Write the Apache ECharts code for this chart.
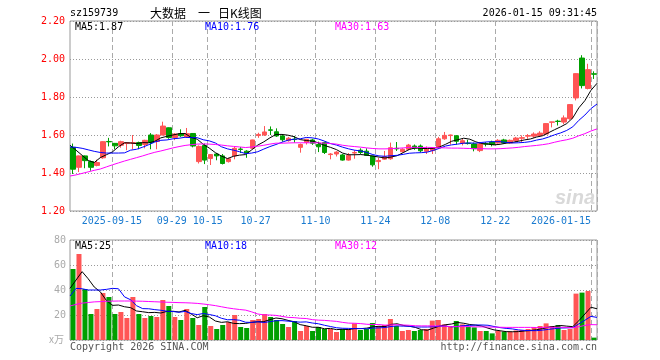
<!DOCTYPE html>
<html><head><meta charset="utf-8">
<script src="https://cdn.jsdelivr.net/npm/echarts@6/dist/echarts.min.js"></script>
<style>html,body{margin:0;padding:0;background:#fff}#c{width:660px;height:360px}</style>
</head><body><div id="c"></div>
<script>
const dates = ['2025-09-04','2025-09-05','2025-09-08','2025-09-09','2025-09-10','2025-09-11','2025-09-12','2025-09-15','2025-09-16','2025-09-17','2025-09-18','2025-09-19','2025-09-22','2025-09-23','2025-09-24','2025-09-25','2025-09-26','2025-09-29','2025-09-30',
'2025-10-09','2025-10-10','2025-10-13','2025-10-14','2025-10-15','2025-10-16','2025-10-17','2025-10-20','2025-10-21','2025-10-22','2025-10-23','2025-10-24','2025-10-27','2025-10-28','2025-10-29','2025-10-30','2025-10-31',
'2025-11-03','2025-11-04','2025-11-05','2025-11-06','2025-11-07','2025-11-10','2025-11-11','2025-11-12','2025-11-13','2025-11-14','2025-11-17','2025-11-18','2025-11-19','2025-11-20','2025-11-21','2025-11-24','2025-11-25','2025-11-26','2025-11-27','2025-11-28',
'2025-12-01','2025-12-02','2025-12-03','2025-12-04','2025-12-05','2025-12-08','2025-12-09','2025-12-10','2025-12-11','2025-12-12','2025-12-15','2025-12-16','2025-12-17','2025-12-18','2025-12-19','2025-12-22','2025-12-23','2025-12-24','2025-12-25','2025-12-26','2025-12-29','2025-12-30','2025-12-31',
'2026-01-05','2026-01-06','2026-01-07','2026-01-08','2026-01-09','2026-01-12','2026-01-13','2026-01-14','2026-01-15'];

const open = [1.535,1.43,1.49,1.46,1.44,1.48,1.566,1.556,1.546,1.555,
1.556,1.56,1.55,1.60,1.566,1.60,1.638,1.587,1.607,1.59,
1.608,1.46,1.545,1.476,1.50,1.49,1.46,1.49,1.526,1.515,
1.53,1.597,1.60,1.627,1.617,1.595,1.57,1.578,1.535,1.562,
1.574,1.55,1.56,1.497,1.50,1.495,1.468,1.505,1.52,1.515,
1.49,1.46,1.473,1.475,1.53,1.512,1.525,1.542,1.542,1.514,
1.518,1.532,1.58,1.597,1.596,1.556,1.557,1.553,1.518,1.554,
1.563,1.558,1.574,1.558,1.57,1.583,1.594,1.594,1.597,1.605,
1.667,1.673,1.668,1.686,1.795,2.005,1.845,1.922];
const close = [1.42,1.49,1.465,1.43,1.455,1.565,1.564,1.543,1.565,1.56,
1.56,1.545,1.572,1.56,1.60,1.647,1.587,1.605,1.596,1.607,
1.542,1.54,1.468,1.497,1.49,1.45,1.475,1.53,1.524,1.505,
1.574,1.603,1.616,1.625,1.595,1.575,1.583,1.576,1.55,1.577,
1.557,1.538,1.508,1.50,1.51,1.468,1.493,1.508,1.508,1.493,
1.443,1.466,1.486,1.533,1.527,1.525,1.547,1.53,1.517,1.526,
1.532,1.58,1.598,1.60,1.567,1.57,1.555,1.528,1.553,1.552,
1.55,1.572,1.558,1.572,1.584,1.586,1.597,1.605,1.61,1.66,
1.669,1.671,1.69,1.76,1.923,1.86,1.944,1.92];
const low = [1.395,1.405,1.425,1.412,1.435,1.475,1.54,1.525,1.533,1.52,
1.525,1.525,1.53,1.525,1.525,1.598,1.58,1.573,1.59,1.585,
1.535,1.45,1.447,1.442,1.467,1.445,1.455,1.472,1.505,1.48,
1.525,1.585,1.595,1.60,1.59,1.565,1.565,1.56,1.507,1.55,
1.548,1.51,1.50,1.472,1.487,1.465,1.465,1.475,1.50,1.49,
1.433,1.42,1.47,1.47,1.516,1.508,1.52,1.522,1.51,1.50,
1.50,1.53,1.575,1.55,1.55,1.545,1.55,1.514,1.51,1.54,
1.54,1.555,1.555,1.554,1.563,1.563,1.58,1.585,1.59,1.60,
1.64,1.65,1.657,1.68,1.782,1.845,1.84,1.895];
const high = [1.555,1.492,1.492,1.465,1.47,1.567,1.585,1.558,1.57,1.562,
1.60,1.565,1.575,1.61,1.605,1.67,1.64,1.61,1.63,1.637,
1.61,1.545,1.555,1.50,1.505,1.50,1.48,1.537,1.537,1.52,
1.575,1.612,1.647,1.645,1.635,1.60,1.59,1.595,1.555,1.58,
1.58,1.565,1.565,1.505,1.515,1.50,1.505,1.52,1.53,1.53,
1.49,1.48,1.516,1.56,1.563,1.53,1.553,1.55,1.55,1.54,
1.535,1.59,1.616,1.602,1.60,1.58,1.575,1.56,1.563,1.562,
1.57,1.578,1.58,1.576,1.59,1.598,1.605,1.614,1.62,1.662,
1.67,1.68,1.703,1.763,1.925,2.02,1.975,1.935];
const volume = [56.8,68.8,40.8,20.8,24.8,37.6,34.4,20.8,22.4,17.6,
34.4,20.8,17.6,19.2,18.4,32,27.2,18.4,16,24.8,
17.6,12,26.4,11.2,8.8,12,14.4,20,10.4,9.6,
16,16.8,20.8,18.4,16,12.8,10.4,15.2,7.2,11.2,
7.2,10.4,8.8,8.8,6.4,8.8,8.8,13.3,8,8.8,
13.6,11.2,12,16.8,11.2,7.2,8,7.2,8,8.8,
15.5,16,12.5,11,15.2,12.5,10.7,10.1,7.2,7.2,
5.3,7.2,6.7,6.7,7.6,8,8.8,10.1,11.2,13.3,
11.2,12,8,8.8,37.1,37.9,39.2,1.9];

const ma5 = [1.546,1.52,1.493,1.466,1.455,1.481,1.496,1.511,1.538,1.559,
1.558,1.555,1.560,1.559,1.567,1.585,1.593,1.600,1.607,1.608,
1.587,1.578,1.551,1.531,1.507,1.489,1.476,1.488,1.494,1.497,
1.522,1.547,1.564,1.585,1.603,1.603,1.599,1.591,1.576,1.571,
1.568,1.559,1.545,1.535,1.523,1.505,1.496,1.496,1.497,1.494,
1.489,1.484,1.479,1.484,1.491,1.507,1.524,1.532,1.529,1.529,
1.530,1.537,1.551,1.567,1.575,1.583,1.578,1.564,1.555,1.552,
1.548,1.551,1.557,1.561,1.567,1.574,1.579,1.589,1.596,1.612,
1.628,1.643,1.660,1.690,1.743,1.781,1.835,1.872];
const ma10 = [1.537,1.535,1.530,1.522,1.514,1.508,1.505,1.505,1.505,1.506,
1.520,1.525,1.536,1.549,1.563,1.572,1.574,1.580,1.583,1.588,
1.586,1.586,1.575,1.569,1.558,1.538,1.527,1.520,1.512,1.502,
1.505,1.512,1.526,1.539,1.550,1.562,1.573,1.578,1.580,1.587,
1.585,1.579,1.568,1.555,1.547,1.536,1.527,1.520,1.516,1.508,
1.497,1.490,1.488,1.491,1.493,1.498,1.504,1.506,1.507,1.510,
1.519,1.530,1.542,1.548,1.552,1.557,1.558,1.557,1.561,1.564,
1.565,1.565,1.561,1.558,1.559,1.561,1.565,1.573,1.579,1.589,
1.601,1.611,1.624,1.643,1.677,1.705,1.739,1.763];
const ma30 = [1.384,1.390,1.398,1.406,1.414,1.421,1.432,1.443,1.453,1.463,
1.472,1.481,1.490,1.500,1.509,1.516,1.524,1.532,1.539,1.545,
1.549,1.552,1.553,1.552,1.550,1.547,1.543,1.540,1.537,1.534,
1.537,1.541,1.546,1.552,1.557,1.557,1.558,1.559,1.559,1.559,
1.559,1.559,1.557,1.555,1.552,1.546,1.542,1.539,1.536,1.532,
1.529,1.527,1.527,1.528,1.530,1.532,1.535,1.535,1.534,1.535,
1.534,1.533,1.532,1.531,1.531,1.530,1.529,1.528,1.528,1.527,
1.527,1.528,1.530,1.532,1.535,1.539,1.542,1.545,1.549,1.554,
1.562,1.569,1.575,1.583,1.596,1.607,1.621,1.632];
const vma5 = [41.3,48,54.7,49,42.4,38.6,31.7,27.7,28.0,26.6,
25.9,23.2,22.6,21.9,22.1,21.6,22.9,23.0,22.4,23.7,
20.8,17.8,19.4,18.4,15.2,14.1,14.6,13.3,13.1,13.3,
14.1,14.6,14.7,16.3,17.6,17.0,15.7,14.6,12.3,11.4,
10.2,10.2,9.0,9.3,8.3,8.6,8.3,9.2,9.1,9.5,
10.5,11.0,10.7,12.5,13.0,11.7,11.0,10.1,8.3,7.8,
9.5,11.1,12.2,12.8,14.0,13.4,12.4,11.9,11.1,9.5,
8.1,7.4,6.7,6.6,6.7,7.2,7.6,8.2,9.1,10.3,
10.9,11.6,11.1,10.7,15.4,20.8,26.2,25.0];
const vma10 = [35.2,41.3,41.0,40.0,40.0,40.0,40.5,41.3,41.0,34.5,
32.2,27.4,25.1,25.0,24.3,23.8,23.0,22.8,22.2,22.9,
21.2,20.3,21.2,20.4,19.4,17.4,16.2,16.3,15.8,14.2,
14.1,14.6,14.0,14.7,15.4,15.5,15.1,14.6,14.3,14.5,
13.6,13.0,11.8,10.8,9.8,9.4,9.3,9.1,9.2,8.9,
9.6,9.7,10.0,10.8,11.3,11.1,11.0,10.4,10.4,10.4,
10.6,11.1,11.1,10.5,10.9,11.5,11.7,12.0,12.0,11.8,
10.8,9.9,9.3,8.9,8.1,7.7,7.5,7.5,7.9,8.5,
9.1,9.6,9.7,9.9,12.9,15.8,18.9,18.1];
const vma30 = [27.2,28.5,29.5,30.0,30.5,30.7,31.0,31.1,31.2,31.2,
31.2,31.1,31.0,30.8,30.6,30.4,30.2,30.1,29.9,29.8,
29.6,29.3,28.8,28.2,27.5,26.6,25.7,25.0,24.4,23.9,
22.5,20.8,20.1,20.0,19.7,18.9,18.1,17.9,17.4,17.2,
16.3,15.9,15.7,15.3,14.9,14.1,13.5,13.4,13.1,12.6,
12.4,12.4,11.9,12.1,12.2,12.0,11.8,11.4,11.3,11.3,
11.3,11.2,11.0,10.7,10.7,10.7,10.7,10.5,10.5,10.4,
10.3,10.2,10.1,10.1,10.1,10.1,10.1,10.0,10.1,10.2,
10.1,10.2,10.0,9.8,10.6,11.7,12.3,12.2];

const tickDates = ['2025-09-15','2025-09-29','2025-10-15','2025-10-27','2025-11-10','2025-11-24','2025-12-08','2025-12-22','2026-01-15'];
const tickLabels = ['2025-09-15','09-29','10-15','10-27','11-10','11-24','12-08','12-22','2026-01-15'];
const priceAxis = {min: 1.2, max: 2.2, step: 0.2};
const volAxis = {min: 0, max: 80, step: 20};

const MONO = 'DejaVu Sans Mono';
const UP = '#ff5555', DOWN = '#009f00';
const tickIdx = tickDates.map(d => dates.indexOf(d));
const candle = dates.map((d, i) => [open[i], close[i], low[i], high[i]]);
const volData = volume.map((v, i) => ({value: v, itemStyle: {color: close[i] >= open[i] ? UP : DOWN}}));
const last = a => a[a.length - 1];

const chart = echarts.init(document.getElementById('c'), null, {renderer: 'canvas'});
const splitV = {show: true, interval: (idx) => tickIdx.includes(idx), lineStyle: {color: '#aaa', type: [5, 3], width: 1}};
const splitH = {show: true, lineStyle: {color: '#999', type: [1, 2], width: 1}};
function txt(x, y, text, fill, opts) {
  return Object.assign({type: 'text', x: x, y: y, silent: true, z: 100,
    style: Object.assign({text: text, fill: fill, font: '10px "' + MONO + '"', textVerticalAlign: 'middle', textAlign: 'left'}, opts || {})});
}
const CJK = {font: '12px "Noto Sans CJK SC"'};
const option = {
  animation: false,
  backgroundColor: '#fff',
  grid: [
    {left: 70, top: 21, width: 527, height: 190, show: true, borderColor: '#999', borderWidth: 1, backgroundColor: 'transparent'},
    {left: 70, top: 240, width: 527, height: 100, show: true, borderColor: '#999', borderWidth: 1, backgroundColor: 'transparent'}
  ],
  xAxis: [
    {type: 'category', gridIndex: 0, data: dates, boundaryGap: true,
     axisLine: {show: false}, axisTick: {show: false}, splitLine: splitV,
     axisLabel: {show: true, interval: 0, margin: 5,
       formatter: (v, i) => { const k = tickIdx.indexOf(i); if (k < 0) return ''; return (k === tickIdx.length - 1 ? '{r|' : '{c|') + tickLabels[k] + '}'; },
       rich: {c: {fontFamily: MONO, fontSize: 10, color: '#1a7bd0', padding: [0, 6, 0, 0]},
              r: {fontFamily: MONO, fontSize: 10, color: '#1a7bd0', padding: [0, 66, 0, 0]}}}},
    {type: 'category', gridIndex: 1, data: dates, boundaryGap: true,
     axisLine: {show: false}, axisTick: {show: false}, axisLabel: {show: false}, splitLine: splitV},
    {type: 'category', gridIndex: 0, data: dates, boundaryGap: false, show: false},
    {type: 'category', gridIndex: 1, data: dates, boundaryGap: false, show: false}
  ],
  yAxis: [
    {type: 'value', gridIndex: 0, min: priceAxis.min, max: priceAxis.max, interval: priceAxis.step,
     axisLine: {show: false}, axisTick: {show: false}, splitLine: splitH,
     axisLabel: {color: '#ff0000', fontFamily: MONO, fontSize: 10, margin: 5, formatter: v => v.toFixed(2)}},
    {type: 'value', gridIndex: 1, min: volAxis.min, max: volAxis.max, interval: volAxis.step,
     axisLine: {show: false}, axisTick: {show: false}, splitLine: splitH,
     axisLabel: {color: '#aaa', fontFamily: MONO, fontSize: 10, margin: 4, formatter: v => v === 0 ? '' : String(v)}}
  ],
  series: [
    {type: 'candlestick', xAxisIndex: 0, yAxisIndex: 0, data: candle, barWidth: 5,
     itemStyle: {color: UP, color0: DOWN, borderColor: UP, borderColor0: DOWN, borderWidth: 1}},
    {type: 'bar', xAxisIndex: 1, yAxisIndex: 1, data: volData, barWidth: 5},
    {type: 'line', xAxisIndex: 2, yAxisIndex: 0, data: ma5, showSymbol: false, lineStyle: {color: '#000', width: 1}, z: 5},
    {type: 'line', xAxisIndex: 2, yAxisIndex: 0, data: ma10, showSymbol: false, lineStyle: {color: '#0000ff', width: 1}, z: 5},
    {type: 'line', xAxisIndex: 2, yAxisIndex: 0, data: ma30, showSymbol: false, lineStyle: {color: '#ff00ff', width: 1}, z: 5},
    {type: 'line', xAxisIndex: 3, yAxisIndex: 1, data: vma5, showSymbol: false, lineStyle: {color: '#000', width: 1}, z: 5},
    {type: 'line', xAxisIndex: 3, yAxisIndex: 1, data: vma10, showSymbol: false, lineStyle: {color: '#0000ff', width: 1}, z: 5},
    {type: 'line', xAxisIndex: 3, yAxisIndex: 1, data: vma30, showSymbol: false, lineStyle: {color: '#ff00ff', width: 1}, z: 5}
  ],
  graphic: [
    txt(70, 13, 'sz159739', '#000'),
    txt(150, 13, '大数据', '#000', CJK),
    txt(198, 13, '一', '#000', CJK),
    txt(218, 13, '日K线图', '#000', CJK),
    txt(597, 13, '2026-01-15 09:31:45', '#000', {textAlign: 'right'}),
    txt(75, 27, 'MA5:' + last(ma5).toFixed(2), '#000'),
    txt(205, 27, 'MA10:' + last(ma10).toFixed(2), '#0000ff'),
    txt(335, 27, 'MA30:' + last(ma30).toFixed(2), '#ff00ff'),
    txt(75, 246, 'MA5:' + Math.round(last(vma5)), '#000'),
    txt(205, 246, 'MA10:' + Math.round(last(vma10)), '#0000ff'),
    txt(335, 246, 'MA30:' + Math.round(last(vma30)), '#ff00ff'),
    txt(64, 339, 'x万', '#aaa', {textAlign: 'right', font: '10px "Noto Sans CJK SC"'}),
    txt(70, 347, 'Copyright 2026 SINA.COM', '#555'),
    txt(597, 347, 'http://finance.sina.com.cn', '#555', {textAlign: 'right'}),
    txt(595, 198, 'sina', '#d9d9d9', {textAlign: 'right', font: 'italic bold 20px Arial'})
  ]
};
chart.setOption(option);
</script></body></html>
